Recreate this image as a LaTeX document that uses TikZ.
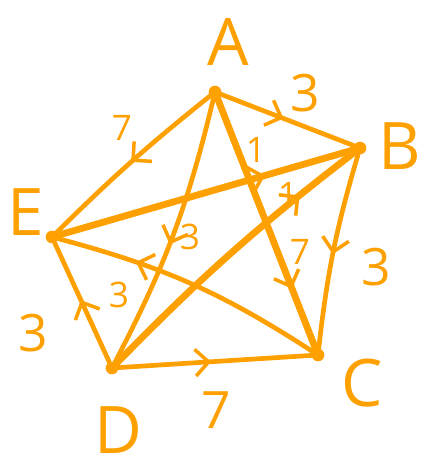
\documentclass[tikz,border=0pt]{standalone}
\usepackage{fontspec}
\setmainfont{Open Sans}
\usetikzlibrary{arrows.meta,decorations.markings}
\definecolor{graphOrange}{RGB}{253, 160, 0}

\begin{document}
\begin{tikzpicture}[
  x=0.03cm, y=-0.03cm,
  vertex/.style={
    circle,
    fill=graphOrange,
    inner sep=0pt,
    minimum size=0.38cm
  },
  vname/.style={
    text=graphOrange,
    inner sep=0pt,
    font=\fontsize{56}{58}\selectfont
  },
  weight/.style={
    text=graphOrange,
    inner sep=0pt,
    font=\fontsize{44}{46}\selectfont
  },
  smallweight/.style={
    text=graphOrange,
    inner sep=0pt,
    font=\fontsize{30}{32}\selectfont
  },
  edge/.style={graphOrange, line width=4pt, line cap=round},
  heavy/.style={graphOrange, line width=5.8pt, line cap=round},
  midarrow/.style={
    decoration={markings,
      mark=at position #1 with {\arrow[line width=3pt]{Straight Barb[length=4mm,width=8mm]}}},
    postaction={decorate}
  }
]
  \useasboundingbox (0,0) rectangle (421,472);

  % vertices
  \node[vertex] (A) at (215,92) {};
  \node[vertex] (B) at (360,148) {};
  \node[vertex] (C) at (318,355) {};
  \node[vertex] (D) at (112,368) {};
  \node[vertex] (E) at (52,237) {};

  % vertex names
  \node[vname] (nameA) at (228,42) {A};
  \node[vname] (nameB) at (400,146) {B};
  \node[vname] (nameC) at (362,383) {C};
  \node[vname] (nameD) at (118,430) {D};
  \node[vname] (nameE) at (26,212) {E};

  % edges
  \draw[edge,midarrow=0.5] (A) to[bend right=3] (E);
  \draw[edge,midarrow=0.47] (A) -- (B);
  \draw[heavy,midarrow=0.7] (E) -- (B);
  \draw[heavy,midarrow=0.78] (D) to[bend left=4] (B);
  \draw[heavy,midarrow=0.76] (A) -- (C);
  \draw[edge,midarrow=0.52] (B) to[bend right=5] (C);
  \draw[edge,midarrow=0.54] (A) to[bend left=7] (D);
  \draw[edge,midarrow=0.71] (C) to[bend right=9] (E);
  \draw[edge,midarrow=0.52] (D) -- (E);
  \draw[edge,midarrow=0.48] (D) -- (C);

  % weights
  \node[weight] (wAB) at (305,93) {3};
  \node[smallweight] (wAE) at (122,128) {7};
  \node[smallweight] (wEB) at (256,150) {1};
  \node[smallweight] (wDB) at (288,195) {1};
  \node[smallweight] (wAC) at (300,252) {7};
  \node[weight] (wBC) at (376,267) {3};
  \node[smallweight] (wAD) at (190,237) {3};
  \node[smallweight] (wCE) at (119,295) {3};
  \node[weight] (wDE) at (33,333) {3};
  \node[weight] (wDC) at (216,410) {7};
\end{tikzpicture}
\end{document}
